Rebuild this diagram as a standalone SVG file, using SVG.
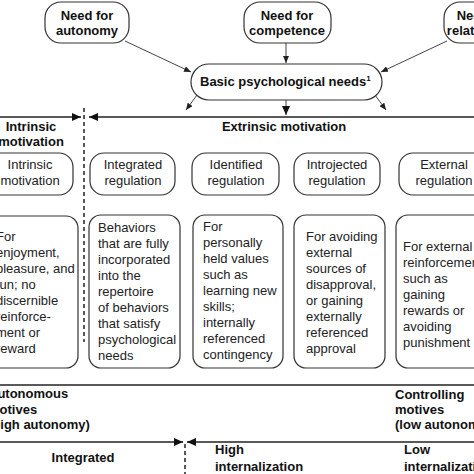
<svg xmlns="http://www.w3.org/2000/svg" width="474" height="474" viewBox="0 0 474 474">
<defs>
<style>
.box{fill:#fff;stroke:#333;stroke-width:1.2}
.b{font-family:"Liberation Sans",Arial,sans-serif;font-size:13px;font-weight:bold;fill:#111}
.r{font-family:"Liberation Sans",Arial,sans-serif;font-size:13px;fill:#222}
.c{stroke:#444;stroke-width:1;fill:none}
.hl{stroke:#222;stroke-width:1.6;fill:none}
.dash{stroke:#222;stroke-width:1.5;stroke-dasharray:4,3;fill:none}
</style>
<marker id="sa" markerUnits="userSpaceOnUse" markerWidth="7" markerHeight="6" refX="7" refY="3" orient="auto"><path d="M0,0 L7,3 L0,6 z" fill="#222"/></marker>
<marker id="ba" markerUnits="userSpaceOnUse" markerWidth="9" markerHeight="8" refX="9" refY="4" orient="auto"><path d="M0,0 L9,4 L0,8 z" fill="#111"/></marker>
</defs>
<rect width="474" height="474" fill="#fff"/>

<g id="connectors">
<line class="c" x1="125" y1="41" x2="191" y2="72" marker-end="url(#sa)"/>
<line class="c" x1="286" y1="43" x2="286" y2="63" marker-end="url(#sa)"/>
<line class="c" x1="447" y1="41" x2="381" y2="72" marker-end="url(#sa)"/>
<line class="c" x1="197" y1="95" x2="186" y2="110" stroke-width="1.3" marker-end="url(#sa)"/>
<line class="c" x1="286" y1="100" x2="286" y2="115" stroke-width="1.5" marker-end="url(#ba)"/>
<line class="c" x1="375" y1="95" x2="386" y2="110" stroke-width="1.3" marker-end="url(#sa)"/>
<line class="hl" x1="0" y1="117" x2="81" y2="117" marker-end="url(#ba)"/>
<line class="hl" x1="474" y1="117" x2="89" y2="117" marker-end="url(#ba)"/>
<line class="dash" x1="84" y1="108" x2="84" y2="342"/>
<line class="hl" x1="0" y1="385" x2="474" y2="385"/>
<line class="hl" x1="0" y1="442" x2="183" y2="442" marker-end="url(#ba)"/>
<line class="hl" x1="474" y1="442" x2="187" y2="442" marker-end="url(#ba)"/>
<line class="dash" x1="185" y1="444" x2="185" y2="474" stroke-width="1.2"/>
</g>

<g id="need-autonomy">
<rect class="box" x="45" y="2" width="84" height="41" rx="16"/>
<text class="b" x="87" y="20" text-anchor="middle">Need for</text>
<text class="b" x="87" y="35" text-anchor="middle">autonomy</text>
</g>
<g id="need-competence">
<rect class="box" x="244" y="2" width="87" height="41" rx="16"/>
<text class="b" x="287" y="20" text-anchor="middle">Need for</text>
<text class="b" x="287" y="35" text-anchor="middle">competence</text>
</g>
<g id="need-relatedness">
<rect class="box" x="444" y="2" width="90" height="41" rx="16"/>
<text class="b" x="483" y="20" text-anchor="middle">Need for</text>
<text class="b" x="483" y="35" text-anchor="middle">relatedness</text>
</g>
<g id="basic-needs">
<rect class="box" x="191" y="64" width="191" height="36" rx="18"/>
<text class="b" x="200" y="86">Basic psychological needs<tspan font-size="8" dy="-5">1</tspan></text>
</g>

<g id="labels-top">
<text class="b" x="31" y="131" text-anchor="middle">Intrinsic</text>
<text class="b" x="31" y="146" text-anchor="middle">motivation</text>
<text class="b" x="284" y="131" text-anchor="middle">Extrinsic motivation</text>
</g>

<g id="type-intrinsic">
<rect class="box" x="-20" y="153" width="93" height="42" rx="14"/>
<text class="r" x="30" y="169" text-anchor="middle">Intrinsic</text>
<text class="r" x="30" y="185" text-anchor="middle">motivation</text>
</g>
<g id="type-integrated">
<rect class="box" x="90" y="153" width="85" height="42" rx="14"/>
<text class="r" x="133" y="169" text-anchor="middle">Integrated</text>
<text class="r" x="133" y="185" text-anchor="middle">regulation</text>
</g>
<g id="type-identified">
<rect class="box" x="192" y="153" width="87" height="42" rx="14"/>
<text class="r" x="236" y="169" text-anchor="middle">Identified</text>
<text class="r" x="236" y="185" text-anchor="middle">regulation</text>
</g>
<g id="type-introjected">
<rect class="box" x="294" y="153" width="86" height="42" rx="14"/>
<text class="r" x="337" y="169" text-anchor="middle">Introjected</text>
<text class="r" x="337" y="185" text-anchor="middle">regulation</text>
</g>
<g id="type-external">
<rect class="box" x="399" y="153" width="90" height="42" rx="14"/>
<text class="r" x="444" y="169" text-anchor="middle">External</text>
<text class="r" x="444" y="185" text-anchor="middle">regulation</text>
</g>

<g id="desc-intrinsic">
<rect class="box" x="-20" y="216" width="98" height="152" rx="12"/>
<text class="r" x="-4" y="241">For</text>
<text class="r" x="-4" y="257">enjoyment,</text>
<text class="r" x="-4" y="273">pleasure, and</text>
<text class="r" x="-4" y="289">fun; no</text>
<text class="r" x="-4" y="305">discernible</text>
<text class="r" x="-4" y="321">reinforce-</text>
<text class="r" x="-4" y="337">ment or</text>
<text class="r" x="-4" y="353">reward</text>
</g>
<g id="desc-integrated">
<rect class="box" x="89" y="215" width="91" height="153" rx="12"/>
<text class="r" x="98" y="232">Behaviors</text>
<text class="r" x="98" y="248">that are fully</text>
<text class="r" x="98" y="264">incorporated</text>
<text class="r" x="98" y="280">into the</text>
<text class="r" x="98" y="296">repertoire</text>
<text class="r" x="98" y="312">of behaviors</text>
<text class="r" x="98" y="328">that satisfy</text>
<text class="r" x="98" y="344">psychological</text>
<text class="r" x="98" y="360">needs</text>
</g>
<g id="desc-identified">
<rect class="box" x="193" y="215" width="90" height="153" rx="12"/>
<text class="r" x="203" y="231">For</text>
<text class="r" x="203" y="247">personally</text>
<text class="r" x="203" y="263">held values</text>
<text class="r" x="203" y="279">such as</text>
<text class="r" x="203" y="295">learning new</text>
<text class="r" x="203" y="311">skills;</text>
<text class="r" x="203" y="327">internally</text>
<text class="r" x="203" y="343">referenced</text>
<text class="r" x="203" y="359">contingency</text>
</g>
<g id="desc-introjected">
<rect class="box" x="294" y="215" width="91" height="153" rx="12"/>
<text class="r" x="306" y="241">For avoiding</text>
<text class="r" x="306" y="257">external</text>
<text class="r" x="306" y="273">sources of</text>
<text class="r" x="306" y="289">disapproval,</text>
<text class="r" x="306" y="305">or gaining</text>
<text class="r" x="306" y="321">externally</text>
<text class="r" x="306" y="337">referenced</text>
<text class="r" x="306" y="353">approval</text>
</g>
<g id="desc-external">
<rect class="box" x="396" y="215" width="92" height="153" rx="12"/>
<text class="r" x="403" y="251">For external</text>
<text class="r" x="403" y="267">reinforcement</text>
<text class="r" x="403" y="283">such as</text>
<text class="r" x="403" y="299">gaining</text>
<text class="r" x="403" y="315">rewards or</text>
<text class="r" x="403" y="331">avoiding</text>
<text class="r" x="403" y="347">punishment</text>
</g>

<g id="labels-bottom">
<text class="b" x="-12" y="398">Autonomous</text>
<text class="b" x="-12" y="414">motives</text>
<text class="b" x="-12" y="429">(high autonomy)</text>
<text class="b" x="395" y="399">Controlling</text>
<text class="b" x="395" y="414">motives</text>
<text class="b" x="395" y="429">(low autonomy)</text>
<text class="b" x="83" y="462" text-anchor="middle">Integrated</text>
<text class="b" x="215" y="454">High</text>
<text class="b" x="215" y="471">internalization</text>
<text class="b" x="404" y="454">Low</text>
<text class="b" x="404" y="471">internalization</text>
</g>
</svg>
